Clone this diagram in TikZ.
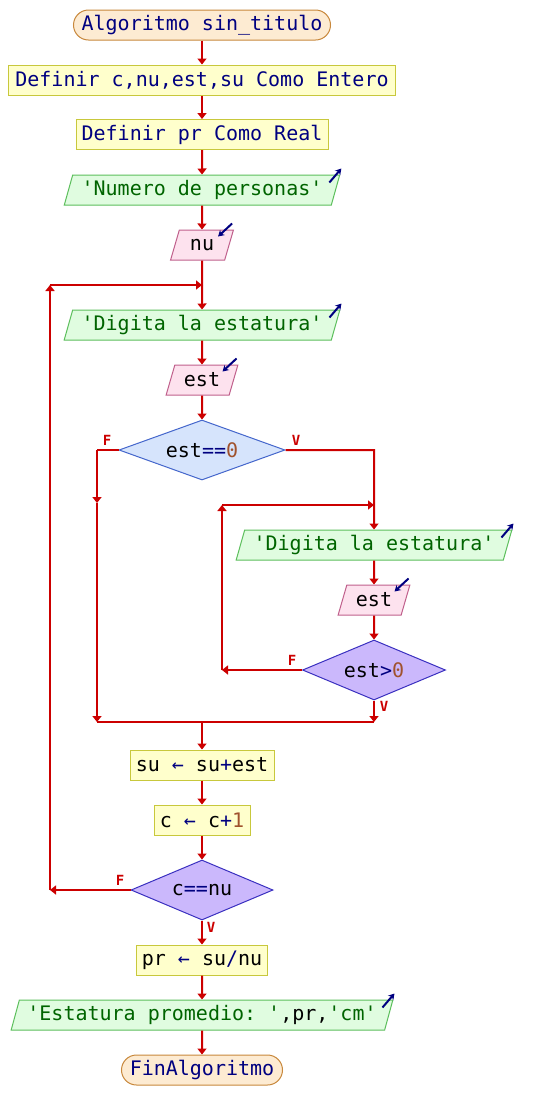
\documentclass[tikz,border=0pt]{standalone}
\usepackage{fontspec}
\setmonofont{DejaVu Sans Mono}
\usetikzlibrary{shapes.geometric,arrows.meta,calc}
\definecolor{flow}{HTML}{CC0000}
\definecolor{kw}{HTML}{000080}
\definecolor{str}{HTML}{006400}
\definecolor{num}{HTML}{A0522D}
\definecolor{termfill}{HTML}{FDEBD2}
\definecolor{termdraw}{HTML}{C8883C}
\definecolor{procfill}{HTML}{FFFFCC}
\definecolor{procdraw}{HTML}{C8C83C}
\definecolor{outfill}{HTML}{E0FCE0}
\definecolor{outdraw}{HTML}{5CBF5C}
\definecolor{infill}{HTML}{FDE2EE}
\definecolor{indraw}{HTML}{C0608C}
\definecolor{dafill}{HTML}{D6E4FC}
\definecolor{dadraw}{HTML}{4466CC}
\definecolor{dbfill}{HTML}{CBB8FC}
\definecolor{dbdraw}{HTML}{3A30C0}
\begin{document}
\begin{tikzpicture}[x=1pt,y=-1pt,
  font=\ttfamily\fontsize{20}{24}\selectfont,
  base/.style={draw, line width=1pt, inner sep=0pt, minimum height=30pt},
  term/.style={base, rounded corners=15pt, fill=termfill, draw=termdraw},
  proc/.style={base, fill=procfill, draw=procdraw},
  outp/.style={base, trapezium, trapezium left angle=68, trapezium right angle=112,
    trapezium stretches=true, fill=outfill, draw=outdraw},
  inp/.style={outp, fill=infill, draw=indraw},
  deca/.style={diamond, line width=1pt, inner sep=0pt, shape aspect=2.8,
    minimum height=60pt, fill=dafill, draw=dadraw},
  decb/.style={deca, fill=dbfill, draw=dbdraw},
  flowline/.style={draw=flow, line width=2pt},
  arr/.style={flowline, -{Triangle[width=9pt,length=6pt]}},
  lab/.style={text=flow, inner sep=0pt, font=\ttfamily\bfseries\fontsize{14}{16}\selectfont},
  ico/.style={draw=kw, line width=2pt, -{Stealth[length=6pt,width=7pt]}}
]
\fill[white] (0,0) rectangle (556,1120);
\useasboundingbox (0,0) rectangle (556,1120);

% nodes
\node[term, minimum width=257pt] (start) at (202,25) {\color{kw}Algoritmo sin\_titulo};
\node[proc, minimum width=387pt] (def1) at (202,80) {\color{kw}Definir c,nu,est,su Como Entero};
\node[proc, minimum width=252pt] (def2) at (202,134.5) {\color{kw}Definir pr Como Real};
\node[outp, minimum width=276pt] (out1) at (202,190) {\color{str}'Numero de personas'};
\node[inp, minimum width=63pt] (in1) at (202,245) {nu};
\coordinate (j1) at (202,285);
\node[outp, minimum width=276pt] (out2) at (202,325) {\color{str}'Digita la estatura'};
\node[inp, minimum width=72pt] (in2) at (202,380) {est};
\node[deca, minimum width=166pt] (d1) at (202,450) {est{\color{kw}==}{\color{num}0}};
\node[outp, minimum width=276pt] (out3) at (374,545) {\color{str}'Digita la estatura'};
\node[inp, minimum width=72pt] (in3) at (374,600) {est};
\node[decb, minimum width=143pt] (d2) at (374,670) {est{\color{kw}>}{\color{num}0}};
\node[proc, minimum width=144pt] (su) at (202,765) {su {\color{kw}←} su{\color{kw}+}est};
\node[proc, minimum width=96pt] (cc) at (202,820) {c {\color{kw}←} c{\color{kw}+}{\color{num}1}};
\node[decb, minimum width=142pt] (d3) at (202,890) {c{\color{kw}==}nu};
\node[proc, minimum width=131pt] (pr) at (202,960) {pr {\color{kw}←} su{\color{kw}/}nu};
\node[outp, minimum width=383pt] (out4) at (202,1015) {{\color{str}'Estatura promedio: '},pr,{\color{str}'cm'}};
\node[term, minimum width=161pt] (fin) at (202,1070) {\color{kw}FinAlgoritmo};

% junction coordinates
\coordinate (lt) at (50,285);
\coordinate (lb) at (50,890);
\coordinate (d1F) at (97,450);
\coordinate (d1Fm) at (97,503);
\coordinate (j2) at (97,722);
\coordinate (d1V) at (374,450);
\coordinate (j3) at (374,505);
\coordinate (i1) at (222,505);
\coordinate (i2) at (222,670);
\coordinate (j4) at (374,722);
\coordinate (j5) at (202,722);

% main flow
\draw[arr] (start.south) -- (def1.north);
\draw[arr] (def1.south) -- (def2.north);
\draw[arr] (def2.south) -- (out1.north);
\draw[arr] (out1.south) -- (in1.north);
\draw[flowline] (in1.south) -- (j1);
\draw[arr] (j1) -- (out2.north);
\draw[arr] (out2.south) -- (in2.north);
\draw[arr] (in2.south) -- (d1.north);

% est==0 false branch
\draw[flowline] (d1.west) -- (d1F);
\draw[arr] (d1F) -- (d1Fm);
\draw[arr] (d1Fm) -- (j2);
% est==0 true branch
\draw[arr] (d1.east) -- (d1V) -- (out3.north);
\draw[arr] (out3.south) -- (in3.north);
\draw[arr] (in3.south) -- (d2.north);
% inner loop
\draw[arr] (d2.west) -- (i2);
\draw[arr] (i2) -- (i1);
\draw[arr] (i1) -- (j3);
\draw[arr] (d2.south) -- (j4);
\draw[flowline] (j2) -- (j4);

% after join
\draw[arr] (j5) -- (su.north);
\draw[arr] (su.south) -- (cc.north);
\draw[arr] (cc.south) -- (d3.north);
% outer loop back
\draw[arr] (d3.west) -- (lb);
\draw[arr] (lb) -- (lt);
\draw[arr] (lt) -- (j1);
\draw[arr] (d3.south) -- (pr.north);
\draw[arr] (pr.south) -- (out4.north);
\draw[arr] (out4.south) -- (fin.north);

% branch labels
\node[lab] (l1F) at (107,440) {F};
\node[lab] (l1V) at (296,440) {V};
\node[lab] (l2F) at (292,660) {F};
\node[lab] (l2V) at (384,706) {V};
\node[lab] (l3F) at (120,880) {F};
\node[lab] (l3V) at (211,927) {V};

% I/O icons
\foreach \n in {out1,out2,out3,out4}{
  \draw[ico] ($(\n.top right corner)+(-11,8)$) -- ($(\n.top right corner)+(1,-6)$);
}
\foreach \n in {in1,in2,in3}{
  \draw[ico] ($(\n.top right corner)+(-2,-6)$) -- ($(\n.top right corner)+(-16,7)$);
}
\end{tikzpicture}
\end{document}
